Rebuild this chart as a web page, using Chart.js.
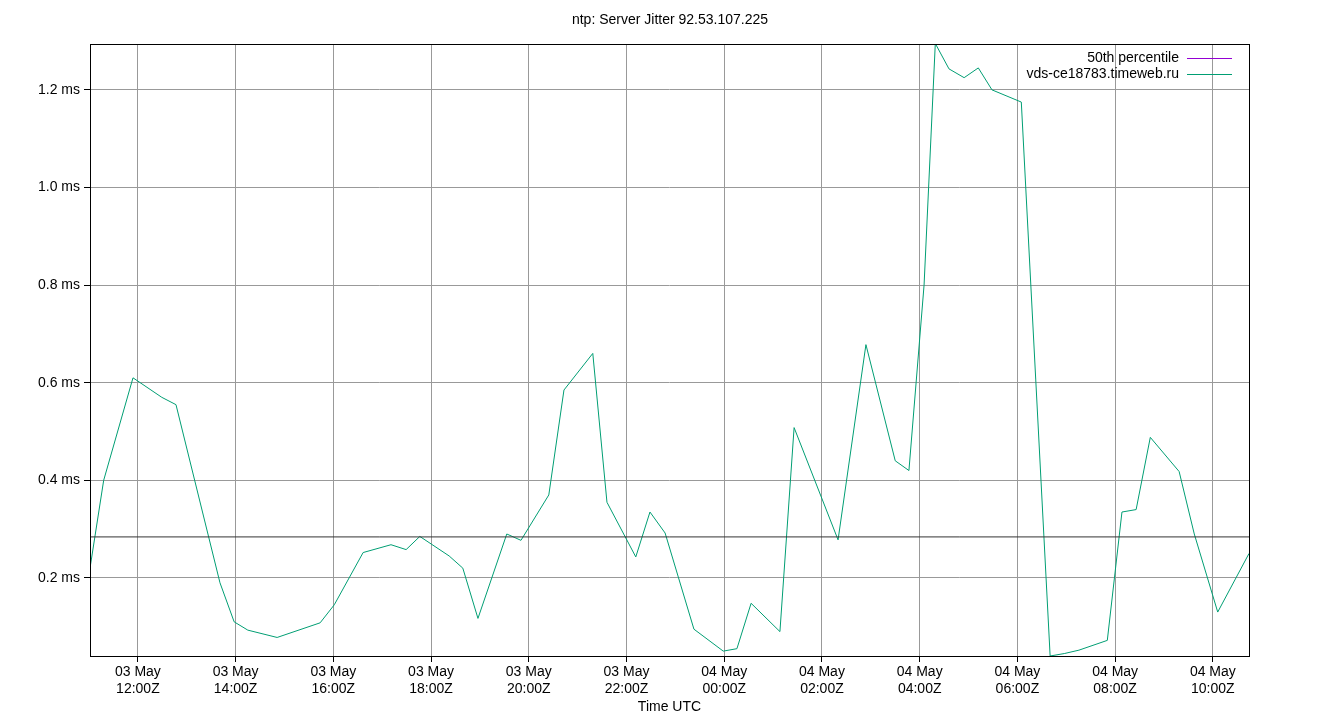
<!DOCTYPE html>
<html><head><meta charset="utf-8">
<script src="https://cdn.jsdelivr.net/npm/chart.js@4"></script>
<style>html,body{margin:0;padding:0;background:#fff}#c{display:block}</style>
</head><body>
<canvas id="c" width="1340" height="720"></canvas>
<script>
// hours since 03 May 00:00 UTC
const times=[11.02,11.30,11.90,12.49,12.78,13.68,13.97,14.25,14.85,15.73,16.02,16.61,17.18,17.49,17.77,18.37,18.65,18.96,19.55,19.84,20.41,20.72,21.31,21.60,22.19,22.48,22.79,23.38,23.98,24.26,24.55,25.14,25.43,26.33,26.90,27.50,27.78,28.09,28.32,28.60,28.91,29.20,29.48,30.08,30.67,30.96,31.26,31.84,32.14,32.43,32.72,33.31,33.62,34.10,34.74];
const jitter=[0.22,0.40,0.61,0.57,0.555,0.19,0.11,0.093,0.078,0.108,0.145,0.252,0.268,0.258,0.285,0.245,0.22,0.117,0.29,0.277,0.37,0.585,0.66,0.355,0.243,0.335,0.292,0.095,0.05,0.055,0.148,0.09,0.508,0.278,0.678,0.44,0.42,0.8,1.295,1.243,1.225,1.245,1.2,1.175,0.04,0.045,0.052,0.072,0.335,0.34,0.488,0.418,0.29,0.13,0.25];
const median=0.284;
const tickHours=[12,14,16,18,20,22,24,26,28,30,32,34];
const tickLabels=[['03 May','12:00Z'],['03 May','14:00Z'],['03 May','16:00Z'],['03 May','18:00Z'],['03 May','20:00Z'],['03 May','22:00Z'],['04 May','00:00Z'],['04 May','02:00Z'],['04 May','04:00Z'],['04 May','06:00Z'],['04 May','08:00Z'],['04 May','10:00Z']];
const yTicks=[0.2,0.4,0.6,0.8,1.0,1.2];
const seriesNames=['50th percentile','vds-ce18783.timeweb.ru'];
const FONT='"Liberation Sans", Arial, sans-serif';

const deco={id:'deco',afterDraw(ch){
  const c=ch.ctx,a=ch.chartArea;
  c.save();
  c.strokeStyle='#000';c.lineWidth=1;
  c.strokeRect(Math.round(a.left)+0.5,Math.round(a.top)+0.5,Math.round(a.right-a.left),Math.round(a.bottom-a.top));
  c.fillStyle='#000';c.font='14px '+FONT;c.textAlign='center';c.textBaseline='middle';
  c.fillText('ntp: Server Jitter 92.53.107.225',670,20);
  c.textAlign='right';
  const cols=['#9400d3','#009e73'];
  seriesNames.forEach((n,i)=>{
    const y=58+i*16;
    c.fillStyle='#000';c.fillText(n,1179,y);
    c.strokeStyle=cols[i];c.beginPath();c.moveTo(1187,y+0.5);c.lineTo(1232,y+0.5);c.stroke();
  });
  c.restore();
}};

new Chart(document.getElementById('c'),{
  type:'scatter',
  data:{datasets:[
    {label:seriesNames[0],data:[{x:11.02,y:median},{x:34.74,y:median}],showLine:true,borderColor:'#333',borderWidth:1,pointRadius:0},
    {label:seriesNames[1],data:times.map((t,i)=>({x:t,y:jitter[i]})),showLine:true,borderColor:'#009e73',borderWidth:1,pointRadius:0,tension:0}
  ]},
  plugins:[deco],
  options:{
    responsive:false,animation:false,devicePixelRatio:1,
    layout:{padding:{top:44,right:91,left:0,bottom:0}},
    plugins:{legend:{display:false},title:{display:false},tooltip:{enabled:false}},
    scales:{
      x:{type:'linear',min:11.02,max:34.74,
        afterBuildTicks(s){s.ticks=tickHours.map(v=>({value:v}));},
        afterFit(s){s.height=64;},
        grid:{color:'#999',borderDash:[2,3],drawTicks:true,tickLength:6,tickColor:'#000'},
        border:{display:false},
        ticks:{color:'#000',font:{size:14,family:FONT},padding:2,maxRotation:0,autoSkip:false,
          callback(v){const i=tickHours.indexOf(v);return i>=0?tickLabels[i]:'';}},
        title:{display:true,text:'Time UTC',color:'#000',font:{size:14,family:FONT},padding:{top:2,bottom:4}}},
      y:{min:0.04,max:1.294,
        afterBuildTicks(s){s.ticks=yTicks.map(v=>({value:v}));},
        afterFit(s){s.width=90;},
        grid:{color:'#999',borderDash:[2,3],tickLength:6,tickColor:'#000'},
        border:{display:false},
        ticks:{color:'#000',font:{size:14,family:FONT},padding:4,callback(v){return v.toFixed(1)+' ms';}}}
    }
  }
});
</script>
</body></html>
